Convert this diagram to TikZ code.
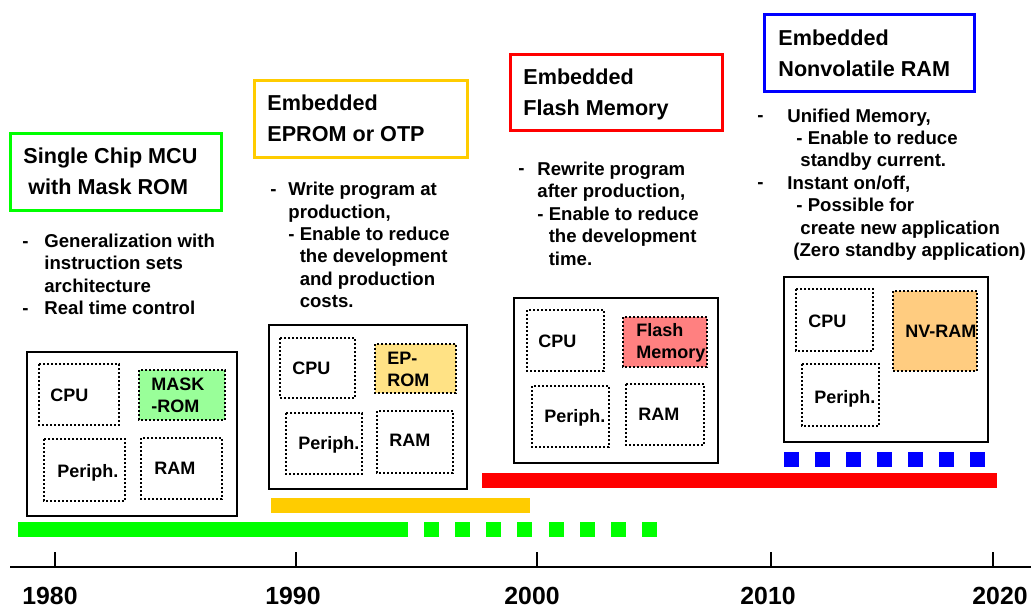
\documentclass[tikz,border=0pt]{standalone}
\usepackage{fontspec}
\setmainfont{Liberation Sans}
\definecolor{mcugreen}{HTML}{00FF00}
\definecolor{otpyellow}{HTML}{FFCC00}
\definecolor{flashred}{HTML}{FF0000}
\definecolor{nvblue}{HTML}{0000FF}
\definecolor{maskfill}{HTML}{99FF99}
\definecolor{epromfill}{HTML}{FFE285}
\definecolor{flashfill}{HTML}{FF8080}
\definecolor{nvfill}{HTML}{FFCC80}
\begin{document}
\begin{tikzpicture}[x=0.5pt,y=-0.5pt,
	headbox/.style={line width=1.5pt},
	chipbox/.style={line width=1pt},
	blockbox/.style={line width=1pt,dash pattern=on 1pt off 1pt},
	headtxt/.style={anchor=base west,inner sep=0pt,align=left,font=\fontsize{10.8}{15.5}\selectfont\bfseries},
	bodytxt/.style={anchor=base west,inner sep=0pt,align=left,font=\fontsize{9.3}{11.2}\selectfont\bfseries},
	chiptxt/.style={anchor=base west,inner sep=0pt,align=left,font=\fontsize{9}{11.2}\selectfont\bfseries},
	yeartxt/.style={anchor=base,inner sep=0pt,font=\fontsize{12.4}{14}\selectfont\bfseries}]
		\useasboundingbox (0,0) rectangle (1031,607);
		
		% headings (y = baseline of last line)
		\draw[headbox,mcugreen] (10,133) rectangle (221,210);
		\draw[headbox,otpyellow] (254,80) rectangle (467,157);
		\draw[headbox,flashred] (510,54) rectangle (722,130);
		\draw[headbox,nvblue] (764,14) rectangle (974,91);
		\node[headtxt] (mcuHead) at (23,194.5) {Single Chip MCU\\\hspace*{2.5pt}with Mask ROM};
		\node[headtxt] (otpHead) at (267,141) {Embedded\\EPROM or OTP};
		\node[headtxt] (flashHead) at (523,115.7) {Embedded\\Flash Memory};
		\node[headtxt] (nvHead) at (778,76) {Embedded\\Nonvolatile RAM};
		
		% features
		\node[bodytxt] (mcuDashA) at (22,247.7) {-};
		\node[bodytxt] (mcuDashB) at (22,314.7) {-};
		\node[bodytxt] (mcuText) at (44,314.7) {Generalization with\\instruction sets\\architecture\\Real time control};
		\node[bodytxt] (otpDash) at (270,195.7) {-};
		\node[bodytxt] (otpText) at (288,307.7) {Write program at\\production,\\- Enable to reduce\\\phantom{- }the development\\\phantom{- }and production\\\phantom{- }costs.};
		\node[bodytxt] (flashDash) at (518,174.7) {-};
		\node[bodytxt] (flashText) at (537,265) {Rewrite program\\after production,\\- Enable to reduce\\\phantom{- }the development\\\phantom{- }time.};
		\node[bodytxt] (nvDashA) at (757,121.7) {-};
		\node[bodytxt] (nvDashB) at (757,188.7) {-};
		\node[bodytxt] (nvText) at (787,256.5) {Unified Memory,\\\hspace*{4.5pt}- Enable to reduce\\\hspace*{6.5pt}standby current.\\Instant on/off,\\\hspace*{4.5pt}- Possible for\\\hspace*{6.5pt}create new application\\\hspace*{3pt}(Zero standby application)};
		
		% chips
		\draw[chipbox] (27,352) rectangle (237,516);
		\draw[blockbox] (39,364) rectangle (119,425);
		\draw[blockbox,fill=maskfill] (139,370) rectangle (225,420);
		\draw[blockbox] (44,439) rectangle (125,501);
		\draw[blockbox] (141,438) rectangle (222,499);
		\node[chiptxt] (cpuA) at (50,401.4) {CPU};
		\node[chiptxt] (romA) at (151,412.4) {MASK\\-ROM};
		\node[chiptxt] (perA) at (57,477.4) {Periph.};
		\node[chiptxt] (ramA) at (154,474.4) {RAM};
		
		\draw[chipbox] (269,325) rectangle (467,489);
		\draw[blockbox] (280,338) rectangle (355,398);
		\draw[blockbox,fill=epromfill] (375,344) rectangle (456,393);
		\draw[blockbox] (286,413) rectangle (362,474);
		\draw[blockbox] (377,411) rectangle (453,473);
		\node[chiptxt] (cpuB) at (292,374.4) {CPU};
		\node[chiptxt] (romB) at (387,386.4) {EP-\\ROM};
		\node[chiptxt] (perB) at (298,449.4) {Periph.};
		\node[chiptxt] (ramB) at (389,446.4) {RAM};
		
		\draw[chipbox] (514,298) rectangle (718,463);
		\draw[blockbox] (527,310) rectangle (604,371);
		\draw[blockbox,fill=flashfill] (623,317) rectangle (707,367);
		\draw[blockbox] (532,386) rectangle (609,447);
		\draw[blockbox] (626,384) rectangle (704,445);
		\node[chiptxt] (cpuC) at (538,347.4) {CPU};
		\node[chiptxt] (romC) at (636,358.4) {Flash\\Memory};
		\node[chiptxt] (perC) at (544,422.4) {Periph.};
		\node[chiptxt] (ramC) at (638,420.4) {RAM};
		
		\draw[chipbox] (784,277) rectangle (988,442);
		\draw[blockbox] (796,289) rectangle (873,351);
		\draw[blockbox,fill=nvfill] (893,291) rectangle (977,371);
		\draw[blockbox] (802,364) rectangle (879,426);
		\node[chiptxt] (cpuD) at (808,327.4) {CPU};
		\node[chiptxt] (ramD) at (905,337.4) {NV-RAM};
		\node[chiptxt] (perD) at (814,403.4) {Periph.};
		
		% bars
		\foreach \i in {0,...,6}
			\fill[nvblue] ({784+31*\i},452) rectangle +(15,15);
		\fill[flashred] (482,473) rectangle (997,488);
		\fill[otpyellow] (271,498) rectangle (530,513);
		\fill[mcugreen] (18,522) rectangle (408,537);
		\foreach \i in {0,...,7}
			\fill[mcugreen] ({424+31.15*\i},522) rectangle +(15,15);
		
		% time axis
		\draw[line width=1pt] (10,567) -- (1031,567);
		\foreach \x/\lx/\yr in {55/50/1980,296/293/1990,537/532/2000,771/768/2010,993/1000/2020}{
			\draw[line width=1pt] (\x,552) -- (\x,567);
			\node[yeartxt] (y\yr) at (\lx,604.5) {\yr};
		}
\end{tikzpicture}
\end{document}
